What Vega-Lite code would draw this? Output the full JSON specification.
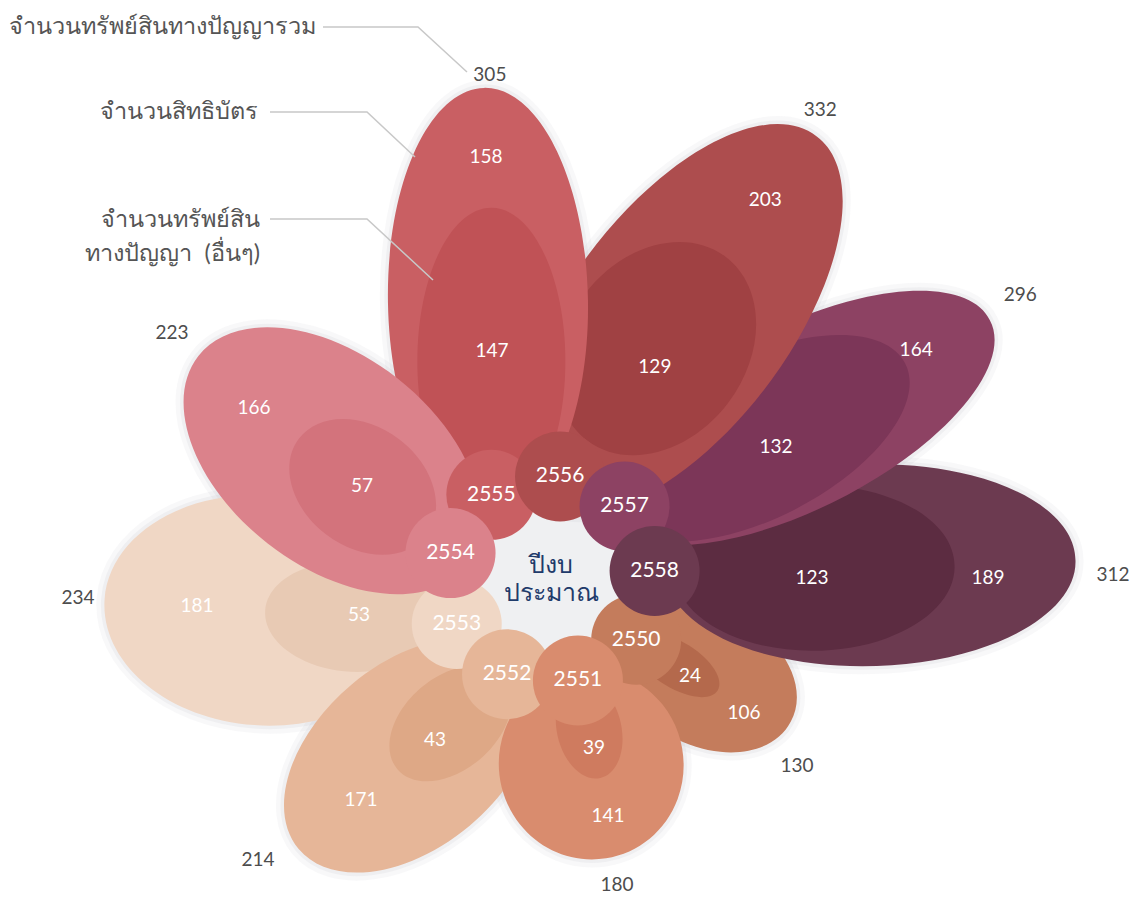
{
  "$schema": "https://vega.github.io/schema/vega-lite/v6.json",
  "width": 1140,
  "height": 899,
  "autosize": {"type": "none"},
  "padding": 0,
  "background": "#ffffff",
  "config": {"view": {"stroke": null}, "font": "Lato"},
  "datasets": {
    "ip": [
      {"year": 2550, "total": 130, "patent": 106, "other": 24},
      {"year": 2551, "total": 180, "patent": 141, "other": 39},
      {"year": 2552, "total": 214, "patent": 171, "other": 43},
      {"year": 2553, "total": 234, "patent": 181, "other": 53},
      {"year": 2554, "total": 223, "patent": 166, "other": 57},
      {"year": 2555, "total": 305, "patent": 158, "other": 147},
      {"year": 2556, "total": 332, "patent": 203, "other": 129},
      {"year": 2557, "total": 296, "patent": 164, "other": 132},
      {"year": 2558, "total": 312, "patent": 189, "other": 123}
    ],
    "notes": [
      {"label": "จำนวนทรัพย์สินทางปัญญารวม", "x": -235, "y": -553},
      {"label": "จำนวนสิทธิบัตร", "x": -293, "y": -468},
      {"label": "จำนวนทรัพย์สิน", "x": -291, "y": -360},
      {"label": "ทางปัญญา\u00a0\u00a0(อื่นๆ)", "x": -291, "y": -326}
    ],
    "leaders": [
      {"id": 1, "seq": 1, "x": -228, "y": -553},
      {"id": 1, "seq": 2, "x": -133, "y": -553},
      {"id": 1, "seq": 3, "x": -84, "y": -508},
      {"id": 2, "seq": 1, "x": -281, "y": -468},
      {"id": 2, "seq": 2, "x": -184, "y": -468},
      {"id": 2, "seq": 3, "x": -136, "y": -423},
      {"id": 3, "seq": 1, "x": -281, "y": -361},
      {"id": 3, "seq": 2, "x": -184, "y": -361},
      {"id": 3, "seq": 3, "x": -118, "y": -300}
    ]
  },
  "layer": [
    {
      "data": {"name": "ip"},
      "transform": [
        {"calculate": "(35 + 40 * (datum.year - 2550)) * PI / 180", "as": "ang"},
        {"calculate": "104 * cos(datum.ang)", "as": "cx"},
        {"calculate": "104 * sin(datum.ang)", "as": "cy"},
        {"aggregate": [{"op": "mean", "field": "cx", "as": "mx"}, {"op": "mean", "field": "cy", "as": "my"}]}
      ],
      "mark": {"type": "point", "shape": "circle", "filled": true, "opacity": 1, "size": 25600, "color": "#eff0f2"},
      "encoding": {
        "x": {"field": "mx", "type": "quantitative", "scale": {"domain": [-551, 589], "nice": false, "zero": false}, "axis": null},
        "y": {"field": "my", "type": "quantitative", "scale": {"domain": [-580, 319], "nice": false, "zero": false, "reverse": true}, "axis": null}
      }
    },
    {
      "data": {"name": "ip"},
      "transform": [
        {"calculate": "(35 + 40 * (datum.year - 2550)) * PI / 180", "as": "ang"},
        {"calculate": "104 * cos(datum.ang)", "as": "cx"},
        {"calculate": "104 * sin(datum.ang)", "as": "cy"},
        {"calculate": "datum.year + '-total'", "as": "skey"},
        {"calculate": "datum.total", "as": "value"}
      ],
      "mark": {"type": "point", "filled": false, "opacity": 1, "stroke": "#8c9099", "strokeOpacity": 0.06, "strokeWidth": 16},
      "encoding": {
        "x": {"field": "cx", "type": "quantitative", "scale": {"domain": [-551, 589], "nice": false, "zero": false}, "axis": null},
        "y": {"field": "cy", "type": "quantitative", "scale": {"domain": [-580, 319], "nice": false, "zero": false, "reverse": true}, "axis": null},
        "shape": {
          "field": "skey", "type": "nominal", "legend": null,
          "scale": {
            "domain": ["2550-total", "2551-total", "2552-total", "2553-total", "2554-total", "2555-total", "2556-total", "2557-total", "2558-total"],
            "range": [
              "M1.1886,0.632A0.7462,0.5231,28,1,1,-0.129,-0.0686A0.7462,0.5231,28,1,1,1.1886,0.632Z",
              "M0.1564,0.9877A0.5278,0.5111,81,1,1,-0.0087,-0.0549A0.5278,0.5111,81,1,1,0.1564,0.9877Z",
              "M-0.9737,0.817A0.6822,0.4299,140,1,1,0.0716,-0.0601A0.6822,0.4299,140,1,1,-0.9737,0.817Z",
              "M-1.5049,-0.1052A0.6752,0.4915,184,1,1,-0.1577,-0.011A0.6752,0.4915,184,1,1,-1.5049,-0.1052Z",
              "M-1.1308,-0.8835A0.7623,0.4709,218,1,1,0.0707,0.0552A0.7623,0.4709,218,1,1,-1.1308,-0.8835Z",
              "M-0.0233,-1.3342A0.7,0.3279,269,1,1,0.0011,0.0656A0.7,0.3279,269,1,1,-0.0233,-1.3342Z",
              "M0.7722,-1.0248A0.6898,0.3313,307,1,1,-0.058,0.077A0.6898,0.3313,307,1,1,0.7722,-1.0248Z",
              "M1.2342,-0.6288A0.7264,0.3041,333,1,1,-0.0602,0.0307A0.7264,0.3041,333,1,1,1.2342,-0.6288Z",
              "M1.3489,-0.0353A0.6571,0.3205,358.5,1,1,0.0352,-0.0009A0.6571,0.3205,358.5,1,1,1.3489,-0.0353Z"
            ]
          }
        },
        "size": {"field": "value", "type": "quantitative", "legend": null, "scale": {"type": "pow", "exponent": 2, "domain": [0, 400], "range": [0, 640000]}}
      }
    },
    {
      "data": {"name": "ip"},
      "transform": [
        {"calculate": "(35 + 40 * (datum.year - 2550)) * PI / 180", "as": "ang"},
        {"calculate": "104 * cos(datum.ang)", "as": "cx"},
        {"calculate": "104 * sin(datum.ang)", "as": "cy"},
        {"calculate": "datum.year + '-total'", "as": "skey"},
        {"calculate": "datum.total", "as": "value"}
      ],
      "mark": {"type": "point", "filled": false, "opacity": 1, "stroke": "#8c9099", "strokeOpacity": 0.08, "strokeWidth": 7},
      "encoding": {
        "x": {"field": "cx", "type": "quantitative", "scale": {"domain": [-551, 589], "nice": false, "zero": false}, "axis": null},
        "y": {"field": "cy", "type": "quantitative", "scale": {"domain": [-580, 319], "nice": false, "zero": false, "reverse": true}, "axis": null},
        "shape": {
          "field": "skey", "type": "nominal", "legend": null,
          "scale": {
            "domain": ["2550-total", "2551-total", "2552-total", "2553-total", "2554-total", "2555-total", "2556-total", "2557-total", "2558-total"],
            "range": [
              "M1.1886,0.632A0.7462,0.5231,28,1,1,-0.129,-0.0686A0.7462,0.5231,28,1,1,1.1886,0.632Z",
              "M0.1564,0.9877A0.5278,0.5111,81,1,1,-0.0087,-0.0549A0.5278,0.5111,81,1,1,0.1564,0.9877Z",
              "M-0.9737,0.817A0.6822,0.4299,140,1,1,0.0716,-0.0601A0.6822,0.4299,140,1,1,-0.9737,0.817Z",
              "M-1.5049,-0.1052A0.6752,0.4915,184,1,1,-0.1577,-0.011A0.6752,0.4915,184,1,1,-1.5049,-0.1052Z",
              "M-1.1308,-0.8835A0.7623,0.4709,218,1,1,0.0707,0.0552A0.7623,0.4709,218,1,1,-1.1308,-0.8835Z",
              "M-0.0233,-1.3342A0.7,0.3279,269,1,1,0.0011,0.0656A0.7,0.3279,269,1,1,-0.0233,-1.3342Z",
              "M0.7722,-1.0248A0.6898,0.3313,307,1,1,-0.058,0.077A0.6898,0.3313,307,1,1,0.7722,-1.0248Z",
              "M1.2342,-0.6288A0.7264,0.3041,333,1,1,-0.0602,0.0307A0.7264,0.3041,333,1,1,1.2342,-0.6288Z",
              "M1.3489,-0.0353A0.6571,0.3205,358.5,1,1,0.0352,-0.0009A0.6571,0.3205,358.5,1,1,1.3489,-0.0353Z"
            ]
          }
        },
        "size": {"field": "value", "type": "quantitative", "legend": null, "scale": {"type": "pow", "exponent": 2, "domain": [0, 400], "range": [0, 640000]}}
      }
    },
    {
      "data": {"name": "ip"},
      "transform": [
        {"calculate": "(35 + 40 * (datum.year - 2550)) * PI / 180", "as": "ang"},
        {"calculate": "104 * cos(datum.ang)", "as": "cx"},
        {"calculate": "104 * sin(datum.ang)", "as": "cy"},
        {"fold": ["total", "other"], "as": ["kind", "value"]},
        {"calculate": "datum.year + '-' + datum.kind", "as": "pkey"},
        {"calculate": "indexof([2553, 2552, 2550, 2551, 2558, 2557, 2556, 2555, 2554], datum.year) * 2 + (datum.kind === 'other' ? 1 : 0)", "as": "rank"}
      ],
      "mark": {"type": "point", "filled": true, "opacity": 1, "strokeWidth": 0},
      "encoding": {
        "x": {"field": "cx", "type": "quantitative", "scale": {"domain": [-551, 589], "nice": false, "zero": false}, "axis": null},
        "y": {"field": "cy", "type": "quantitative", "scale": {"domain": [-580, 319], "nice": false, "zero": false, "reverse": true}, "axis": null},
        "shape": {
          "field": "pkey", "type": "nominal", "legend": null,
          "scale": {
            "domain": ["2550-total", "2550-other", "2551-total", "2551-other", "2552-total", "2552-other", "2553-total", "2553-other", "2554-total", "2554-other", "2555-total", "2555-other", "2556-total", "2556-other", "2557-total", "2557-other", "2558-total", "2558-other"],
            "range": [
              "M1.1886,0.632A0.7462,0.5231,28,1,1,-0.129,-0.0686A0.7462,0.5231,28,1,1,1.1886,0.632Z",
              "M3.3922,2.1197A2,0.9583,32,1,1,0,0A2,0.9583,32,1,1,3.3922,2.1197Z",
              "M0.1564,0.9877A0.5278,0.5111,81,1,1,-0.0087,-0.0549A0.5278,0.5111,81,1,1,0.1564,0.9877Z",
              "M0.5768,2.4984A1.2821,0.8205,77,1,1,0,0A1.2821,0.8205,77,1,1,0.5768,2.4984Z",
              "M-0.9737,0.817A0.6822,0.4299,140,1,1,0.0716,-0.0601A0.6822,0.4299,140,1,1,-0.9737,0.817Z",
              "M-2.5449,2.2123A1.6279,1.0698,139,1,1,-0.0878,0.0763A1.6279,1.0698,139,1,1,-2.5449,2.2123Z",
              "M-1.5049,-0.1052A0.6752,0.4915,184,1,1,-0.1577,-0.011A0.6752,0.4915,184,1,1,-1.5049,-0.1052Z",
              "M-3.6138,-0.2527A1.6415,1.0377,184,1,1,-0.3388,-0.0237A1.6415,1.0377,184,1,1,-3.6138,-0.2527Z",
              "M-1.1308,-0.8835A0.7623,0.4709,218,1,1,0.0707,0.0552A0.7623,0.4709,218,1,1,-1.1308,-0.8835Z",
              "M-2.6621,-2.0061A1.4035,1.0526,217,1,1,-0.4203,-0.3168A1.4035,1.0526,217,1,1,-2.6621,-2.0061Z",
              "M-0.0233,-1.3342A0.7,0.3279,269,1,1,0.0011,0.0656A0.7,0.3279,269,1,1,-0.0233,-1.3342Z",
              "M0,-1.9524A1.0442,0.5034,270,1,1,0,0.1361A1.0442,0.5034,270,1,1,0,-1.9524Z",
              "M0.7722,-1.0248A0.6898,0.3313,307,1,1,-0.058,0.077A0.6898,0.3313,307,1,1,0.7722,-1.0248Z",
              "M1.283,-1.7026A0.8915,0.6977,307,1,1,0.2099,-0.2786A0.8915,0.6977,307,1,1,1.283,-1.7026Z",
              "M1.2342,-0.6288A0.7264,0.3041,333,1,1,-0.0602,0.0307A0.7264,0.3041,333,1,1,1.2342,-0.6288Z",
              "M2.1263,-1.0834A1.25,0.6061,333,1,1,-0.1013,0.0516A1.25,0.6061,333,1,1,2.1263,-1.0834Z",
              "M1.3489,-0.0353A0.6571,0.3205,358.5,1,1,0.0352,-0.0009A0.6571,0.3205,358.5,1,1,1.3489,-0.0353Z",
              "M2.4386,-0.0426A1.1382,0.6667,359,1,1,0.1626,-0.0028A1.1382,0.6667,359,1,1,2.4386,-0.0426Z"
            ]
          }
        },
        "color": {
          "field": "pkey", "type": "nominal", "legend": null,
          "scale": {
            "domain": ["2550-total", "2550-other", "2551-total", "2551-other", "2552-total", "2552-other", "2553-total", "2553-other", "2554-total", "2554-other", "2555-total", "2555-other", "2556-total", "2556-other", "2557-total", "2557-other", "2558-total", "2558-other"],
            "range": ["#c47c5c", "#b4694c", "#d98c6e", "#cf7b5f", "#e6b698", "#dea886", "#f0d7c5", "#e8cab4", "#db828b", "#d3737c", "#c95f63", "#c05256", "#ad4d4e", "#a04143", "#8d4263", "#7c3658", "#6c3a50", "#5c2c41"]
          }
        },
        "size": {"field": "value", "type": "quantitative", "legend": null, "scale": {"type": "pow", "exponent": 2, "domain": [0, 400], "range": [0, 640000]}},
        "order": {"field": "rank", "type": "quantitative"}
      }
    },
    {
      "data": {"name": "ip"},
      "transform": [
        {"calculate": "(35 + 40 * (datum.year - 2550)) * PI / 180", "as": "ang"},
        {"calculate": "104 * cos(datum.ang)", "as": "cx"},
        {"calculate": "104 * sin(datum.ang)", "as": "cy"},
        {"calculate": "indexof([2553, 2552, 2550, 2551, 2555, 2556, 2557, 2558, 2554], datum.year)", "as": "crank"}
      ],
      "mark": {"type": "point", "shape": "circle", "filled": true, "opacity": 1, "size": 8100, "strokeWidth": 0},
      "encoding": {
        "x": {"field": "cx", "type": "quantitative", "scale": {"domain": [-551, 589], "nice": false, "zero": false}, "axis": null},
        "y": {"field": "cy", "type": "quantitative", "scale": {"domain": [-580, 319], "nice": false, "zero": false, "reverse": true}, "axis": null},
        "color": {
          "field": "year", "type": "nominal", "legend": null,
          "scale": {"domain": [2550, 2551, 2552, 2553, 2554, 2555, 2556, 2557, 2558], "range": ["#c47c5c", "#d98c6e", "#e6b698", "#f0d7c5", "#db828b", "#c95f63", "#ad4d4e", "#8d4263", "#6c3a50"]}
        },
        "order": {"field": "crank", "type": "quantitative"}
      }
    },
    {
      "data": {"name": "ip"},
      "transform": [
        {"calculate": "(35 + 40 * (datum.year - 2550)) * PI / 180", "as": "ang"},
        {"calculate": "104 * cos(datum.ang)", "as": "cx"},
        {"calculate": "104 * sin(datum.ang)", "as": "cy"}
      ],
      "mark": {"type": "text", "color": "#ffffff", "fontSize": 21, "font": "Lato", "align": "center", "baseline": "middle"},
      "encoding": {
        "x": {"field": "cx", "type": "quantitative", "scale": {"domain": [-551, 589], "nice": false, "zero": false}, "axis": null},
        "y": {"field": "cy", "type": "quantitative", "scale": {"domain": [-580, 319], "nice": false, "zero": false, "reverse": true}, "axis": null},
        "text": {"field": "year", "type": "nominal"}
      }
    },
    {
      "data": {"name": "ip"},
      "transform": [
        {"calculate": "(35 + 40 * (datum.year - 2550)) * PI / 180", "as": "ang"},
        {"calculate": "104 * cos(datum.ang)", "as": "cx"},
        {"calculate": "104 * sin(datum.ang)", "as": "cy"},
        {"fold": ["total", "patent", "other"], "as": ["kind", "value"]}
      ],
      "mark": {"type": "text", "fontSize": 19, "font": "Lato", "align": "center", "baseline": "middle"},
      "encoding": {
        "x": {"field": "cx", "type": "quantitative", "scale": {"domain": [-551, 589], "nice": false, "zero": false}, "axis": null},
        "y": {"field": "cy", "type": "quantitative", "scale": {"domain": [-580, 319], "nice": false, "zero": false, "reverse": true}, "axis": null},
        "theta": {
          "field": "value", "type": "quantitative", "stack": null,
          "scale": {
            "type": "linear", "zero": false,
            "domain": [24, 39, 43, 53, 57, 106, 123, 129, 130, 132, 141, 147, 158, 164, 166, 171, 180, 181, 189, 203, 214, 223, 234, 296, 305, 312, 332],
            "range": [2.1642, 2.9077, 3.9724, 4.8049, 5.3617, 2.1677, 1.6162, 6.997, 2.2358, 7.4805, 2.9234, 6.2884, 6.2675, 7.3617, 5.3477, 4.002, 2.9531, 4.7822, 1.5917, 6.922, 4.0718, 5.3808, 4.7805, 7.3635, 6.2797, 1.5795, 6.9011]
          }
        },
        "radius": {
          "field": "value", "type": "quantitative",
          "scale": {
            "type": "linear", "zero": false,
            "domain": [24, 39, 43, 53, 57, 106, 123, 129, 130, 132, 141, 147, 158, 164, 166, 171, 180, 181, 189, 203, 214, 223, 234, 296, 305, 312, 332],
            "range": [64.9, 69.4, 97.5, 98.1, 111.1, 130.4, 157.6, 144.8, 204.5, 162.8, 138.8, 143.8, 337.8, 330.9, 244.3, 192.7, 208.2, 260.3, 333.5, 344.1, 310.6, 355, 379.6, 448.5, 419.8, 458.4, 449.2]
          }
        },
        "text": {"field": "value", "type": "nominal"},
        "color": {"field": "kind", "type": "nominal", "legend": null, "scale": {"domain": ["total", "patent", "other"], "range": ["#4d4d4d", "#ffffff", "#ffffff"]}}
      }
    },
    {
      "data": {"name": "ip"},
      "transform": [
        {"calculate": "(35 + 40 * (datum.year - 2550)) * PI / 180", "as": "ang"},
        {"calculate": "104 * cos(datum.ang)", "as": "cx"},
        {"calculate": "104 * sin(datum.ang)", "as": "cy"},
        {"aggregate": [{"op": "mean", "field": "cx", "as": "mx"}, {"op": "mean", "field": "cy", "as": "my"}]}
      ],
      "mark": {"type": "text", "text": ["ปีงบ", "ประมาณ"], "lineHeight": 28, "fontSize": 25, "color": "#1f3b6b", "align": "center", "baseline": "middle", "dy": -15},
      "encoding": {
        "x": {"field": "mx", "type": "quantitative", "scale": {"domain": [-551, 589], "nice": false, "zero": false}, "axis": null},
        "y": {"field": "my", "type": "quantitative", "scale": {"domain": [-580, 319], "nice": false, "zero": false, "reverse": true}, "axis": null}
      }
    },
    {
      "data": {"name": "leaders"},
      "mark": {"type": "line", "color": "#c8c8c8", "strokeWidth": 1.5},
      "encoding": {
        "x": {"field": "x", "type": "quantitative", "scale": {"domain": [-551, 589], "nice": false, "zero": false}, "axis": null},
        "y": {"field": "y", "type": "quantitative", "scale": {"domain": [-580, 319], "nice": false, "zero": false, "reverse": true}, "axis": null},
        "detail": {"field": "id", "type": "nominal"},
        "order": {"field": "seq", "type": "quantitative"}
      }
    },
    {
      "data": {"name": "notes"},
      "mark": {"type": "text", "align": "right", "baseline": "middle", "fontSize": 23.5, "color": "#555555"},
      "encoding": {
        "x": {"field": "x", "type": "quantitative", "scale": {"domain": [-551, 589], "nice": false, "zero": false}, "axis": null},
        "y": {"field": "y", "type": "quantitative", "scale": {"domain": [-580, 319], "nice": false, "zero": false, "reverse": true}, "axis": null},
        "text": {"field": "label", "type": "nominal"}
      }
    }
  ],
  "resolve": {"scale": {"color": "independent", "shape": "independent", "size": "independent"}}
}
